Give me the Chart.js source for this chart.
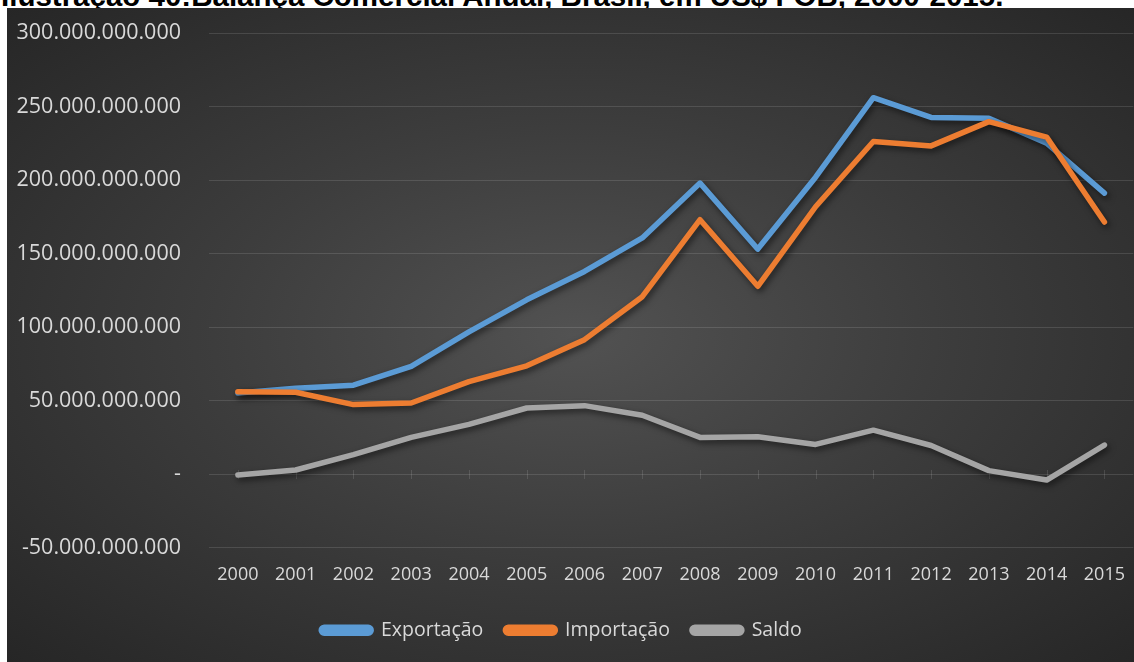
<!DOCTYPE html>
<html>
<head>
<meta charset="utf-8">
<script src="https://cdn.jsdelivr.net/npm/chart.js@4.4.1/dist/chart.umd.min.js"></script>
<style>
  html, body { margin: 0; padding: 0; background: #fff; overflow: hidden; width: 1134px; height: 662px; }
  #titulo {
    position: absolute; left: 1px; top: -19px; z-index: 0;
    font: bold 29.5px "Liberation Sans", Arial, sans-serif; line-height: 29px;
    color: #000; white-space: nowrap;
  }
  #fundo {
    position: absolute; left: 7px; top: 8px; width: 1135px; height: 654px; z-index: 1;
    background: radial-gradient(ellipse farthest-corner at 50% 50%, #525252 0%, #3d3d3d 45%, #262626 100%);
  }
  #grafico { position: absolute; left: 0; top: 0; }
</style>
</head>
<body>
<div id="titulo">Ilustração 40:Balança Comercial Anual, Brasil, em US$ FOB, 2000-2015.</div>
<div id="fundo"><canvas id="grafico" width="1135" height="654"></canvas></div>
<script>
// dados (US$ FOB)
const anos = ['2000', '2001', '2002', '2003', '2004', '2005', '2006', '2007',
  '2008', '2009', '2010', '2011', '2012', '2013', '2014', '2015'];
const exportacao = [55.1e9, 58.3e9, 60.4e9, 73.2e9, 96.7e9, 118.5e9, 137.8e9, 160.6e9,
  197.9e9, 153.0e9, 201.9e9, 256.0e9, 242.6e9, 242.0e9, 225.1e9, 191.1e9];
const importacao = [55.9e9, 55.6e9, 47.2e9, 48.3e9, 62.8e9, 73.6e9, 91.4e9, 120.6e9,
  173.0e9, 127.7e9, 181.8e9, 226.2e9, 223.2e9, 239.7e9, 229.2e9, 171.4e9];
const saldo = [-0.7e9, 2.7e9, 13.2e9, 24.9e9, 33.8e9, 44.9e9, 46.5e9, 40.0e9,
  24.9e9, 25.3e9, 20.1e9, 29.8e9, 19.4e9, 2.3e9, -4.1e9, 19.7e9];
const eixoMin = -50e9;
const eixoMax = 300e9;
const eixoPasso = 50e9;

const corTexto = '#d9d9d9';
const corGrade = 'rgba(255,255,255,0.12)';

// formato 300.000.000.000, zero vira "-"
function formata(v) {
  if (v === 0) return '-';
  const neg = v < 0;
  let s = String(Math.round(Math.abs(v)));
  s = s.replace(/\B(?=(\d{3})+(?!\d))/g, '.');
  return (neg ? '-' : '') + s;
}

// sombra nas linhas
const sombra = {
  id: 'sombra',
  beforeDatasetDraw(chart) {
    const c = chart.ctx;
    c.save();
    c.shadowColor = 'rgba(0,0,0,0.55)';
    c.shadowBlur = 6;
    c.shadowOffsetX = 2;
    c.shadowOffsetY = 3;
  },
  afterDatasetDraw(chart) {
    chart.ctx.restore();
  }
};

// marquinhas no eixo zero
const marcas = {
  id: 'marcas',
  beforeDatasetsDraw(chart) {
    const { ctx, scales: { x, y } } = chart;
    const y0 = y.getPixelForValue(0);
    ctx.save();
    ctx.strokeStyle = corGrade;
    ctx.lineWidth = 1;
    anos.forEach((a, i) => {
      const px = Math.round(x.getPixelForValue(i)) + 0.5;
      ctx.beginPath();
      ctx.moveTo(px, y0 - 4);
      ctx.lineTo(px, y0 + 5);
      ctx.stroke();
    });
    ctx.restore();
  }
};

// legenda um pouco mais à esquerda, como no original
const legendaDesloc = {
  id: 'legendaDesloc',
  afterLayout(chart) {
    chart.legend.left -= 13;
    chart.legend.right -= 13;
  }
};

function serie(label, data, cor, ordem) {
  return {
    label: label,
    data: data,
    borderColor: cor,
    backgroundColor: cor,
    borderWidth: 5.5,
    borderCapStyle: 'round',
    borderJoinStyle: 'round',
    pointRadius: 0,
    tension: 0,
    fill: false,
    order: ordem
  };
}

const ctx = document.getElementById('grafico');

new Chart(ctx, {
  type: 'line',
  data: {
    labels: anos,
    datasets: [
      serie('Exportação', exportacao, '#5b9bd5', 3),
      serie('Importação', importacao, '#ed7d31', 2),
      serie('Saldo', saldo, '#a5a5a5', 1)
    ]
  },
  options: {
    responsive: false,
    animation: false,
    devicePixelRatio: 1,
    layout: { padding: { top: 25, right: 0, bottom: 12, left: 0 } },
    plugins: {
      tooltip: { enabled: false },
      legend: {
        position: 'bottom',
        labels: {
          color: corTexto,
          font: { family: '"Open Sans", sans-serif', size: 19.5 },
          boxWidth: 50,
          boxHeight: 6,
          useBorderRadius: true,
          borderRadius: 3,
          padding: 22,
          sort: (a, b) => a.datasetIndex - b.datasetIndex
        }
      }
    },
    scales: {
      x: {
        offset: true,
        grid: { display: false, drawTicks: false },
        border: { display: false },
        ticks: {
          color: corTexto,
          font: { family: '"Open Sans", sans-serif', size: 18 },
          padding: 17,
          maxRotation: 0,
          autoSkip: false
        },
        afterFit(scale) { scale.height = 51; }
      },
      y: {
        min: eixoMin,
        max: eixoMax,
        grid: { color: corGrade, drawTicks: false },
        border: { display: false },
        ticks: {
          stepSize: eixoPasso,
          color: corTexto,
          font: { family: '"Open Sans", sans-serif', size: 21.5 },
          padding: 28,
          callback: (v) => formata(v)
        },
        afterFit(scale) {
          scale.width = 202;
          scale.paddingTop = 0;
          scale.paddingBottom = 0;
        }
      }
    }
  },
  plugins: [sombra, marcas, legendaDesloc]
});
</script>
</body>
</html>
